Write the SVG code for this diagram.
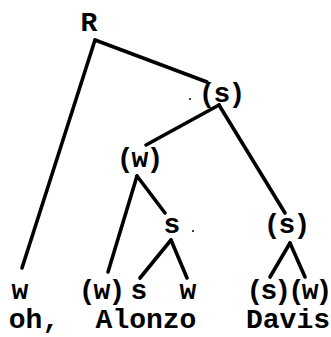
<svg xmlns="http://www.w3.org/2000/svg" width="331" height="337" viewBox="0 0 331 337">
<style>
text{font-family:"Liberation Mono","Courier New",monospace;font-weight:bold;font-size:28px;fill:#000;text-anchor:middle}
text.p{letter-spacing:-2px}
text.q{letter-spacing:-3px}
.e line{stroke:#000;stroke-width:3.6;stroke-linecap:round}
</style>
<rect width="331" height="337" fill="#fff"/>
<g class="e" id="connectors">
<line x1="95" y1="40" x2="207" y2="82"/>
<line x1="95" y1="40" x2="22" y2="268"/>
<line x1="219" y1="105" x2="146" y2="145"/>
<line x1="219" y1="105" x2="285" y2="213"/>
<line x1="137" y1="176" x2="108" y2="272"/>
<line x1="137" y1="176" x2="165" y2="213"/>
<line x1="171" y1="240" x2="140" y2="278"/>
<line x1="171" y1="240" x2="187" y2="278"/>
<line x1="290" y1="243" x2="270" y2="277"/>
<line x1="290" y1="243" x2="305" y2="277"/>
</g>
<g id="n-R"><text x="89" y="31">R</text></g>
<g id="n-s1"><text class="p" x="221" y="102">(s)</text><circle cx="190" cy="99" r="1" fill="#000"/></g>
<g id="n-w1"><text class="p" x="139" y="167">(w)</text></g>
<g id="n-s2"><text x="172" y="233">s</text><circle cx="193" cy="231" r="1" fill="#000"/></g>
<g id="n-s3"><text class="p" x="286" y="233">(s)</text></g>
<g id="n-w-oh"><text x="20" y="299">w</text></g>
<g id="n-w2"><text class="p" x="101" y="299">(w)</text></g>
<g id="n-s4"><text x="139" y="299">s</text></g>
<g id="n-w3"><text x="188" y="299">w</text></g>
<g id="n-sw"><text class="q" x="288" y="299">(s)(w)</text></g>
<g id="words">
<text x="34" y="328">oh,</text>
<text x="146" y="328">Alonzo</text>
<text x="288" y="328">Davis</text>
</g>
</svg>
